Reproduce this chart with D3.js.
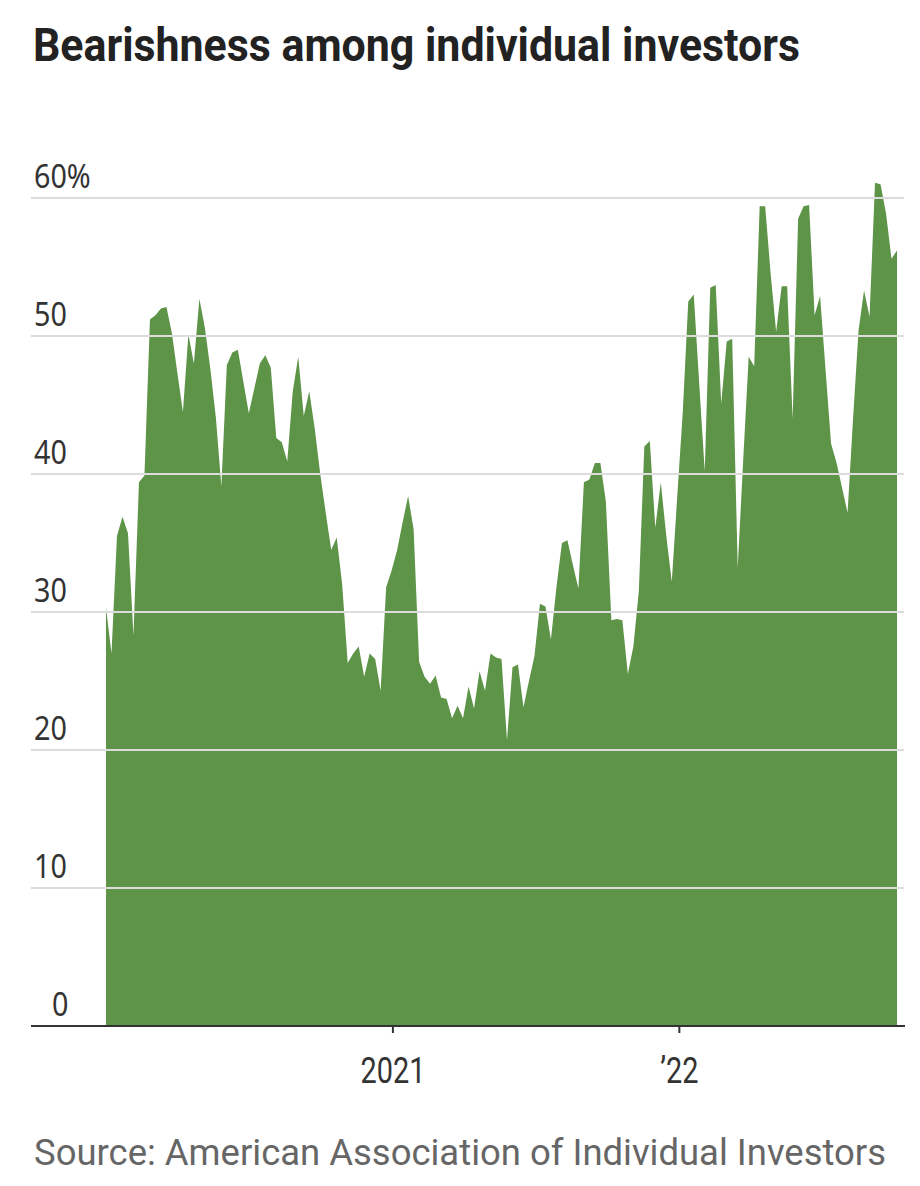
<!DOCTYPE html>
<html>
<head>
<meta charset="utf-8">
<script src="https://cdn.jsdelivr.net/npm/d3@7"></script>
<style>
  body { margin: 0; background: #fff; }
</style>
</head>
<body>
<svg id="chart"></svg>
<script>
// weekly AAII bearish readings (%), first week = startDate
var startDate = new Date(2020, 0, 2);
var bearish = [
  30.3, 27.0, 35.5, 36.9, 35.7, 28.3, 39.4, 39.9, 51.2, 51.5,
  52.0, 52.1, 50.2, 47.3, 44.5, 50.1, 48.0, 52.7, 50.6, 47.6,
  44.1, 39.1, 47.9, 48.8, 49.0, 46.7, 44.4, 46.2, 48.0, 48.6,
  47.7, 42.6, 42.3, 40.9, 46.0, 48.5, 44.2, 46.0, 43.3, 40.0,
  37.2, 34.5, 35.4, 32.0, 26.3, 27.0, 27.5, 25.3, 27.0, 26.6,
  24.3, 31.8, 33.0, 34.5, 36.5, 38.4, 36.0, 26.4, 25.3, 24.8,
  25.4, 23.8, 23.7, 22.3, 23.2, 22.3, 24.6, 23.0, 25.7, 24.3,
  27.0, 26.7, 26.6, 20.7, 26.0, 26.2, 23.1, 25.0, 26.8, 30.6,
  30.4, 28.0, 31.8, 35.0, 35.2, 33.4, 31.7, 39.4, 39.6, 40.8,
  40.8, 38.0, 29.4, 29.5, 29.4, 25.5, 27.5, 31.5, 42.0, 42.4,
  36.1, 39.4, 35.5, 32.2, 38.4, 44.5, 52.5, 53.0, 46.5, 40.2,
  53.5, 53.7, 45.1, 49.6, 49.8, 33.2, 41.0, 48.5, 47.8, 59.4,
  59.4, 54.5, 50.3, 53.6, 53.6, 44.0, 58.5, 59.4, 59.5, 51.5,
  52.9, 47.5, 42.2, 40.8, 39.0, 37.2, 44.0, 50.4, 53.3, 51.4,
  61.1, 61.0, 58.9, 55.6, 56.2
];
var yTicks = [0, 10, 20, 30, 40, 50, 60];
var xTickDates = [new Date(2021, 0, 1), new Date(2022, 0, 1)];
var xTickLabels = ["2021", "\u201922"];

var title = "Bearishness among individual investors";
var source = "Source: American Association of Individual Investors";

var w = 920;
var h = 1186;

var dataset = bearish.map(function(v, i) {
    return { date: d3.timeDay.offset(startDate, i * 7), value: v };
});

var xScale = d3.scaleTime()
    .domain(d3.extent(dataset, function(d) { return d.date; }))
    .range([106, 897]);

var yScale = d3.scaleLinear()
    .domain([0, 60])
    .range([1026, 198]);

var svg = d3.select("#chart")
    .attr("width", w)
    .attr("height", h);

// squeeze text horizontally, the source uses a narrow face
function squeeze(sel, k) {
    sel.each(function() {
        var n = this.getComputedTextLength();
        d3.select(this)
            .attr("textLength", n * k)
            .attr("lengthAdjust", "spacingAndGlyphs");
    });
}

// title
svg.append("text")
    .attr("x", 33)
    .attr("y", 61)
    .attr("font-family", "Roboto, sans-serif")
    .attr("font-weight", 700)
    .attr("font-size", "46px")
    .attr("fill", "#222")
    .text(title)
    .attr("textLength", 767)
    .attr("lengthAdjust", "spacingAndGlyphs");

// area
var area = d3.area()
    .x(function(d) { return xScale(d.date); })
    .y0(yScale(0))
    .y1(function(d) { return yScale(d.value); });

svg.append("path")
    .datum(dataset)
    .attr("d", area)
    .attr("fill", "#5d9447");

// gridlines on top of the area
svg.append("g")
    .selectAll("line")
    .data(yTicks.filter(function(t) { return t > 0; }))
    .enter()
    .append("line")
    .attr("x1", 31)
    .attr("x2", 904)
    .attr("y1", function(d) { return yScale(d); })
    .attr("y2", function(d) { return yScale(d); })
    .attr("stroke", "#dcdcdc")
    .attr("stroke-width", 2);

// y labels
var yLabels = svg.append("g")
    .selectAll("text")
    .data(yTicks)
    .enter()
    .append("text")
    .attr("x", function(d) { return d === 0 ? 52 : 34; })
    .attr("y", function(d) { return yScale(d) - 10; })
    .attr("font-family", "'Noto Sans', sans-serif")
    .attr("font-size", "33px")
    .attr("fill", "#333")
    .text(function(d) { return d === 60 ? d + "%" : d; });
squeeze(yLabels, 0.87);

// x axis
var xaxis = d3.axisBottom(xScale)
    .tickValues(xTickDates)
    .tickSize(7)
    .tickFormat(function(d, i) { return xTickLabels[i]; });

var gx = svg.append("g")
    .attr("class", "x axis")
    .attr("transform", "translate(0," + yScale(0) + ")")
    .call(xaxis);

gx.select(".domain").remove();
gx.selectAll(".tick line")
    .attr("stroke", "#333")
    .attr("stroke-width", 2);
gx.selectAll(".tick text")
    .attr("y", 57)
    .attr("dy", 0)
    .attr("font-family", "Roboto, sans-serif")
    .attr("font-size", "37px")
    .attr("fill", "#333");
squeeze(gx.selectAll(".tick text"), 0.78);

// baseline
svg.append("line")
    .attr("x1", 31)
    .attr("x2", 905)
    .attr("y1", yScale(0))
    .attr("y2", yScale(0))
    .attr("stroke", "#333")
    .attr("stroke-width", 2);

// source
svg.append("text")
    .attr("x", 34)
    .attr("y", 1165)
    .attr("font-family", "Roboto, sans-serif")
    .attr("font-size", "36px")
    .attr("fill", "#666")
    .text(source)
    .attr("textLength", 852)
    .attr("lengthAdjust", "spacingAndGlyphs");
</script>
</body>
</html>
